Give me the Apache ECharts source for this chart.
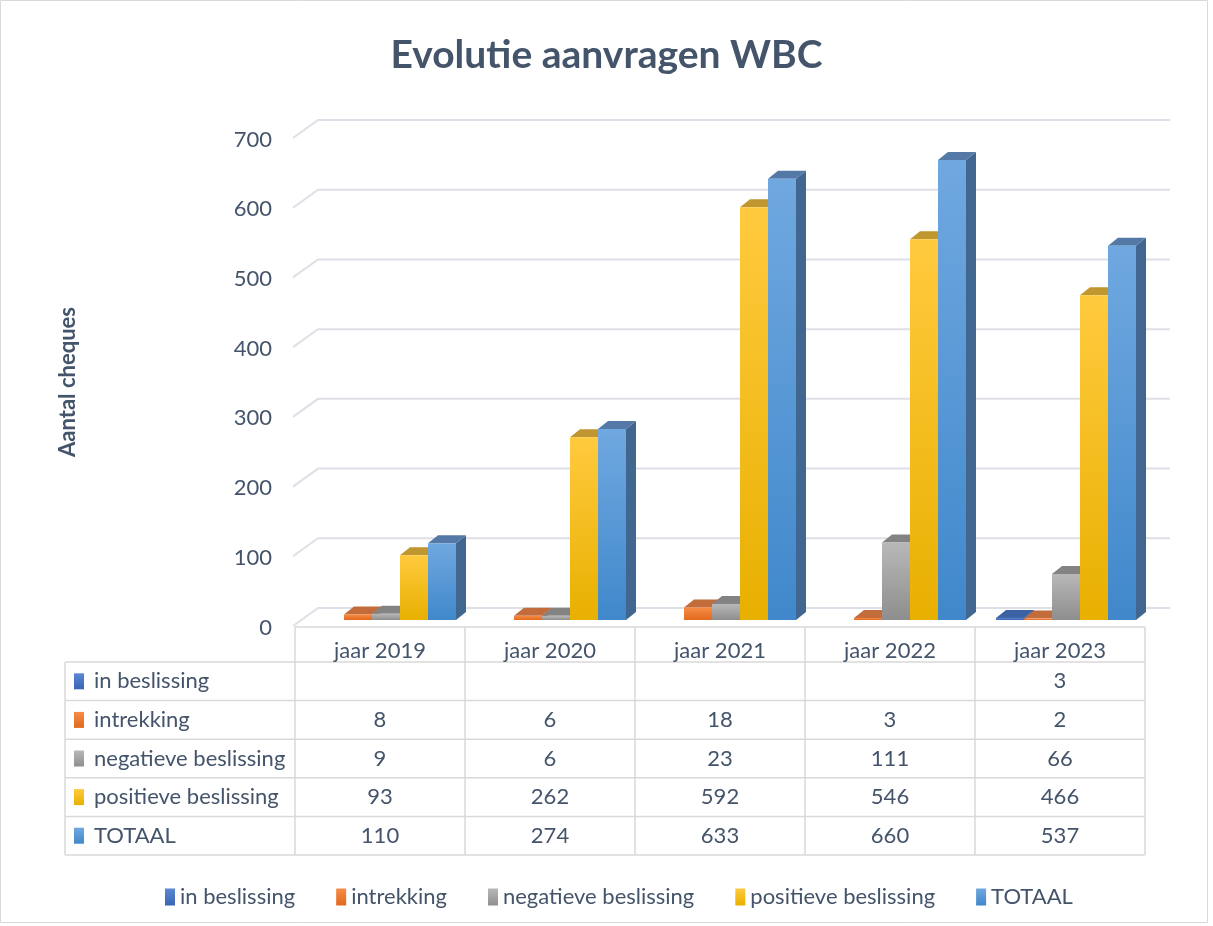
<!DOCTYPE html>
<html>
<head>
<meta charset="utf-8">
<script src="https://cdn.jsdelivr.net/npm/echarts@6/dist/echarts.min.js"></script>
<style>
  html, body { margin: 0; padding: 0; background: #fff; }
  #chart { width: 1213px; height: 926px; }
</style>
</head>
<body>
<div id="chart"></div>
<script>
// data
var categories = ['jaar 2019', 'jaar 2020', 'jaar 2021', 'jaar 2022', 'jaar 2023'];
var seriesNames = ['in beslissing', 'intrekking', 'negatieve beslissing', 'positieve beslissing', 'TOTAAL'];
var inBeslissing = [null, null, null, null, 3];
var intrekking = [8, 6, 18, 3, 2];
var negatieveBeslissing = [9, 6, 23, 111, 66];
var positieveBeslissing = [93, 262, 592, 546, 466];
var totaal = [110, 274, 633, 660, 537];
var yTicks = [0, 100, 200, 300, 400, 500, 600, 700];

var allValues = [inBeslissing, intrekking, negatieveBeslissing, positieveBeslissing, totaal];

// front gradient top/bottom, top face, side face
var palette = [
  { light: '#5B87D3', dark: '#3A65B6', top: '#3C62A6', side: '#2E4E88' },
  { light: '#F68C47', dark: '#E2691C', top: '#C26B3B', side: '#A8551F' },
  { light: '#B8B8B8', dark: '#8E8E8E', top: '#838383', side: '#6C6C6C' },
  { light: '#FFCA3E', dark: '#E8B000', top: '#BF962F', side: '#A27C12' },
  { light: '#70A8E0', dark: '#4088CB', top: '#5479A6', side: '#41668F' }
];

var TEXT = '#44546A';
var FONT = 'Lato, "Open Sans", sans-serif';
var FS = 22;
var BAR_W = 28, DX = 10, DY = 8;
var GRID_L = 295, GRID_R = 1145, GRID_T = 132, GRID_B = 620;
var TABLE_TOP = 662, ROW_H = 38.6, TABLE_L = 65;
var LINE = '#D9D9D9';

function grad(p) {
  return new echarts.graphic.LinearGradient(0, 0, 0, 1, [
    { offset: 0, color: p.light },
    { offset: 1, color: p.dark }
  ]);
}

function barRenderer(si) {
  var p = palette[si];
  return function (params, api) {
    var cat = api.value(0), v = api.value(1);
    var base = api.coord([cat, 0]);
    var top = api.coord([cat, v]);
    var x = base[0] + (si - 2) * BAR_W - 8;
    var ty = top[1], by = base[1];
    return {
      type: 'group',
      children: [
        {
          type: 'polygon',
          shape: { points: [[x + BAR_W, ty], [x + BAR_W + DX, ty - DY], [x + BAR_W + DX, by - DY], [x + BAR_W, by]] },
          style: { fill: p.side }
        },
        {
          type: 'polygon',
          shape: { points: [[x, ty], [x + BAR_W, ty], [x + BAR_W + DX, ty - DY], [x + DX, ty - DY]] },
          style: { fill: p.top }
        },
        {
          type: 'rect',
          shape: { x: x, y: ty, width: BAR_W, height: Math.max(by - ty, 0.5) },
          style: { fill: grad(p) }
        }
      ]
    };
  };
}

function gridRenderer(params, api) {
  var cs = params.coordSys;
  var y = api.coord([0, api.value(1)])[1];
  return {
    type: 'polyline',
    shape: { points: [[cs.x - 2, y + 6], [cs.x + 23, y - 12], [cs.x + cs.width + 25, y - 12]] },
    style: { stroke: '#DDE0E7', lineWidth: 2, fill: null }
  };
}

var series = [{
  type: 'custom',
  name: 'grid',
  silent: true,
  z: 1,
  renderItem: gridRenderer,
  data: yTicks.map(function (v) { return [0, v]; })
}];
seriesNames.forEach(function (name, si) {
  series.push({
    type: 'custom',
    name: name,
    z: 2 + si,
    itemStyle: { color: grad(palette[si]) },
    renderItem: barRenderer(si),
    data: allValues[si].map(function (v, i) { return [i, v]; })
      .filter(function (d) { return d[1] != null; })
  });
});

// data table under the axis
var colW = (GRID_R - GRID_L) / categories.length;
var tableEls = [];
function line(x1, y1, x2, y2) {
  tableEls.push({ type: 'line', shape: { x1: x1, y1: y1, x2: x2, y2: y2 }, style: { stroke: LINE, lineWidth: 1.5 } });
}
var tableBottom = TABLE_TOP + ROW_H * seriesNames.length;
line(GRID_L, 627, GRID_R, 627);
for (var c = 0; c <= categories.length; c++) {
  line(GRID_L + c * colW, 627, GRID_L + c * colW, tableBottom);
}
line(TABLE_L, TABLE_TOP, TABLE_L, tableBottom);
for (var r = 0; r <= seriesNames.length; r++) {
  line(TABLE_L, TABLE_TOP + r * ROW_H, GRID_R, TABLE_TOP + r * ROW_H);
}
seriesNames.forEach(function (name, si) {
  var cy = TABLE_TOP + ROW_H * si + ROW_H / 2;
  tableEls.push({ type: 'rect', shape: { x: 74, y: cy - 8, width: 10, height: 16 }, style: { fill: grad(palette[si]) } });
  tableEls.push({ type: 'text', x: 94, y: cy, style: { text: name, fill: TEXT, font: FS + 'px ' + FONT, verticalAlign: 'middle' } });
  allValues[si].forEach(function (v, ci) {
    if (v == null) return;
    tableEls.push({
      type: 'text', x: GRID_L + ci * colW + colW / 2, y: cy,
      style: { text: String(v), fill: TEXT, font: FS + 'px ' + FONT, align: 'center', verticalAlign: 'middle' }
    });
  });
});
tableEls.push({ type: 'rect', shape: { x: 0.5, y: 0.5, width: 1207, height: 922 }, style: { fill: null, stroke: LINE, lineWidth: 1 } });

var chart = echarts.init(document.getElementById('chart'));
chart.setOption({
  backgroundColor: '#fff',
  animation: false,
  title: {
    text: 'Evolutie aanvragen WBC',
    left: 'center',
    top: 31,
    textStyle: { color: TEXT, fontSize: 39, fontWeight: 'bold', fontFamily: FONT }
  },
  legend: {
    data: seriesNames.map(function (n) { return { name: n, icon: 'rect' }; }),
    left: 160,
    top: 881,
    itemWidth: 10,
    itemHeight: 17,
    itemGap: 41,
    textStyle: { color: TEXT, fontSize: FS, fontFamily: FONT }
  },
  grid: { left: GRID_L, right: 1213 - GRID_R, top: GRID_T, bottom: 926 - GRID_B },
  xAxis: {
    type: 'category',
    data: categories,
    axisLine: { show: false },
    axisTick: { show: false },
    axisLabel: { color: TEXT, fontSize: FS, fontFamily: FONT, margin: 20 }
  },
  yAxis: {
    type: 'value',
    min: 0,
    max: 700,
    interval: 100,
    name: 'Aantal cheques',
    nameLocation: 'middle',
    nameGap: 216,
    nameRotate: 90,
    nameTextStyle: { color: TEXT, fontSize: 22, fontWeight: 'bold', fontFamily: FONT, padding: [0, 12, 0, 0] },
    axisLine: { show: false },
    axisTick: { show: false },
    splitLine: { show: false },
    axisLabel: { color: TEXT, fontSize: FS, fontFamily: FONT, margin: 23, verticalAlign: 'top', lineHeight: 15 }
  },
  graphic: tableEls,
  series: series
});
</script>
</body>
</html>
